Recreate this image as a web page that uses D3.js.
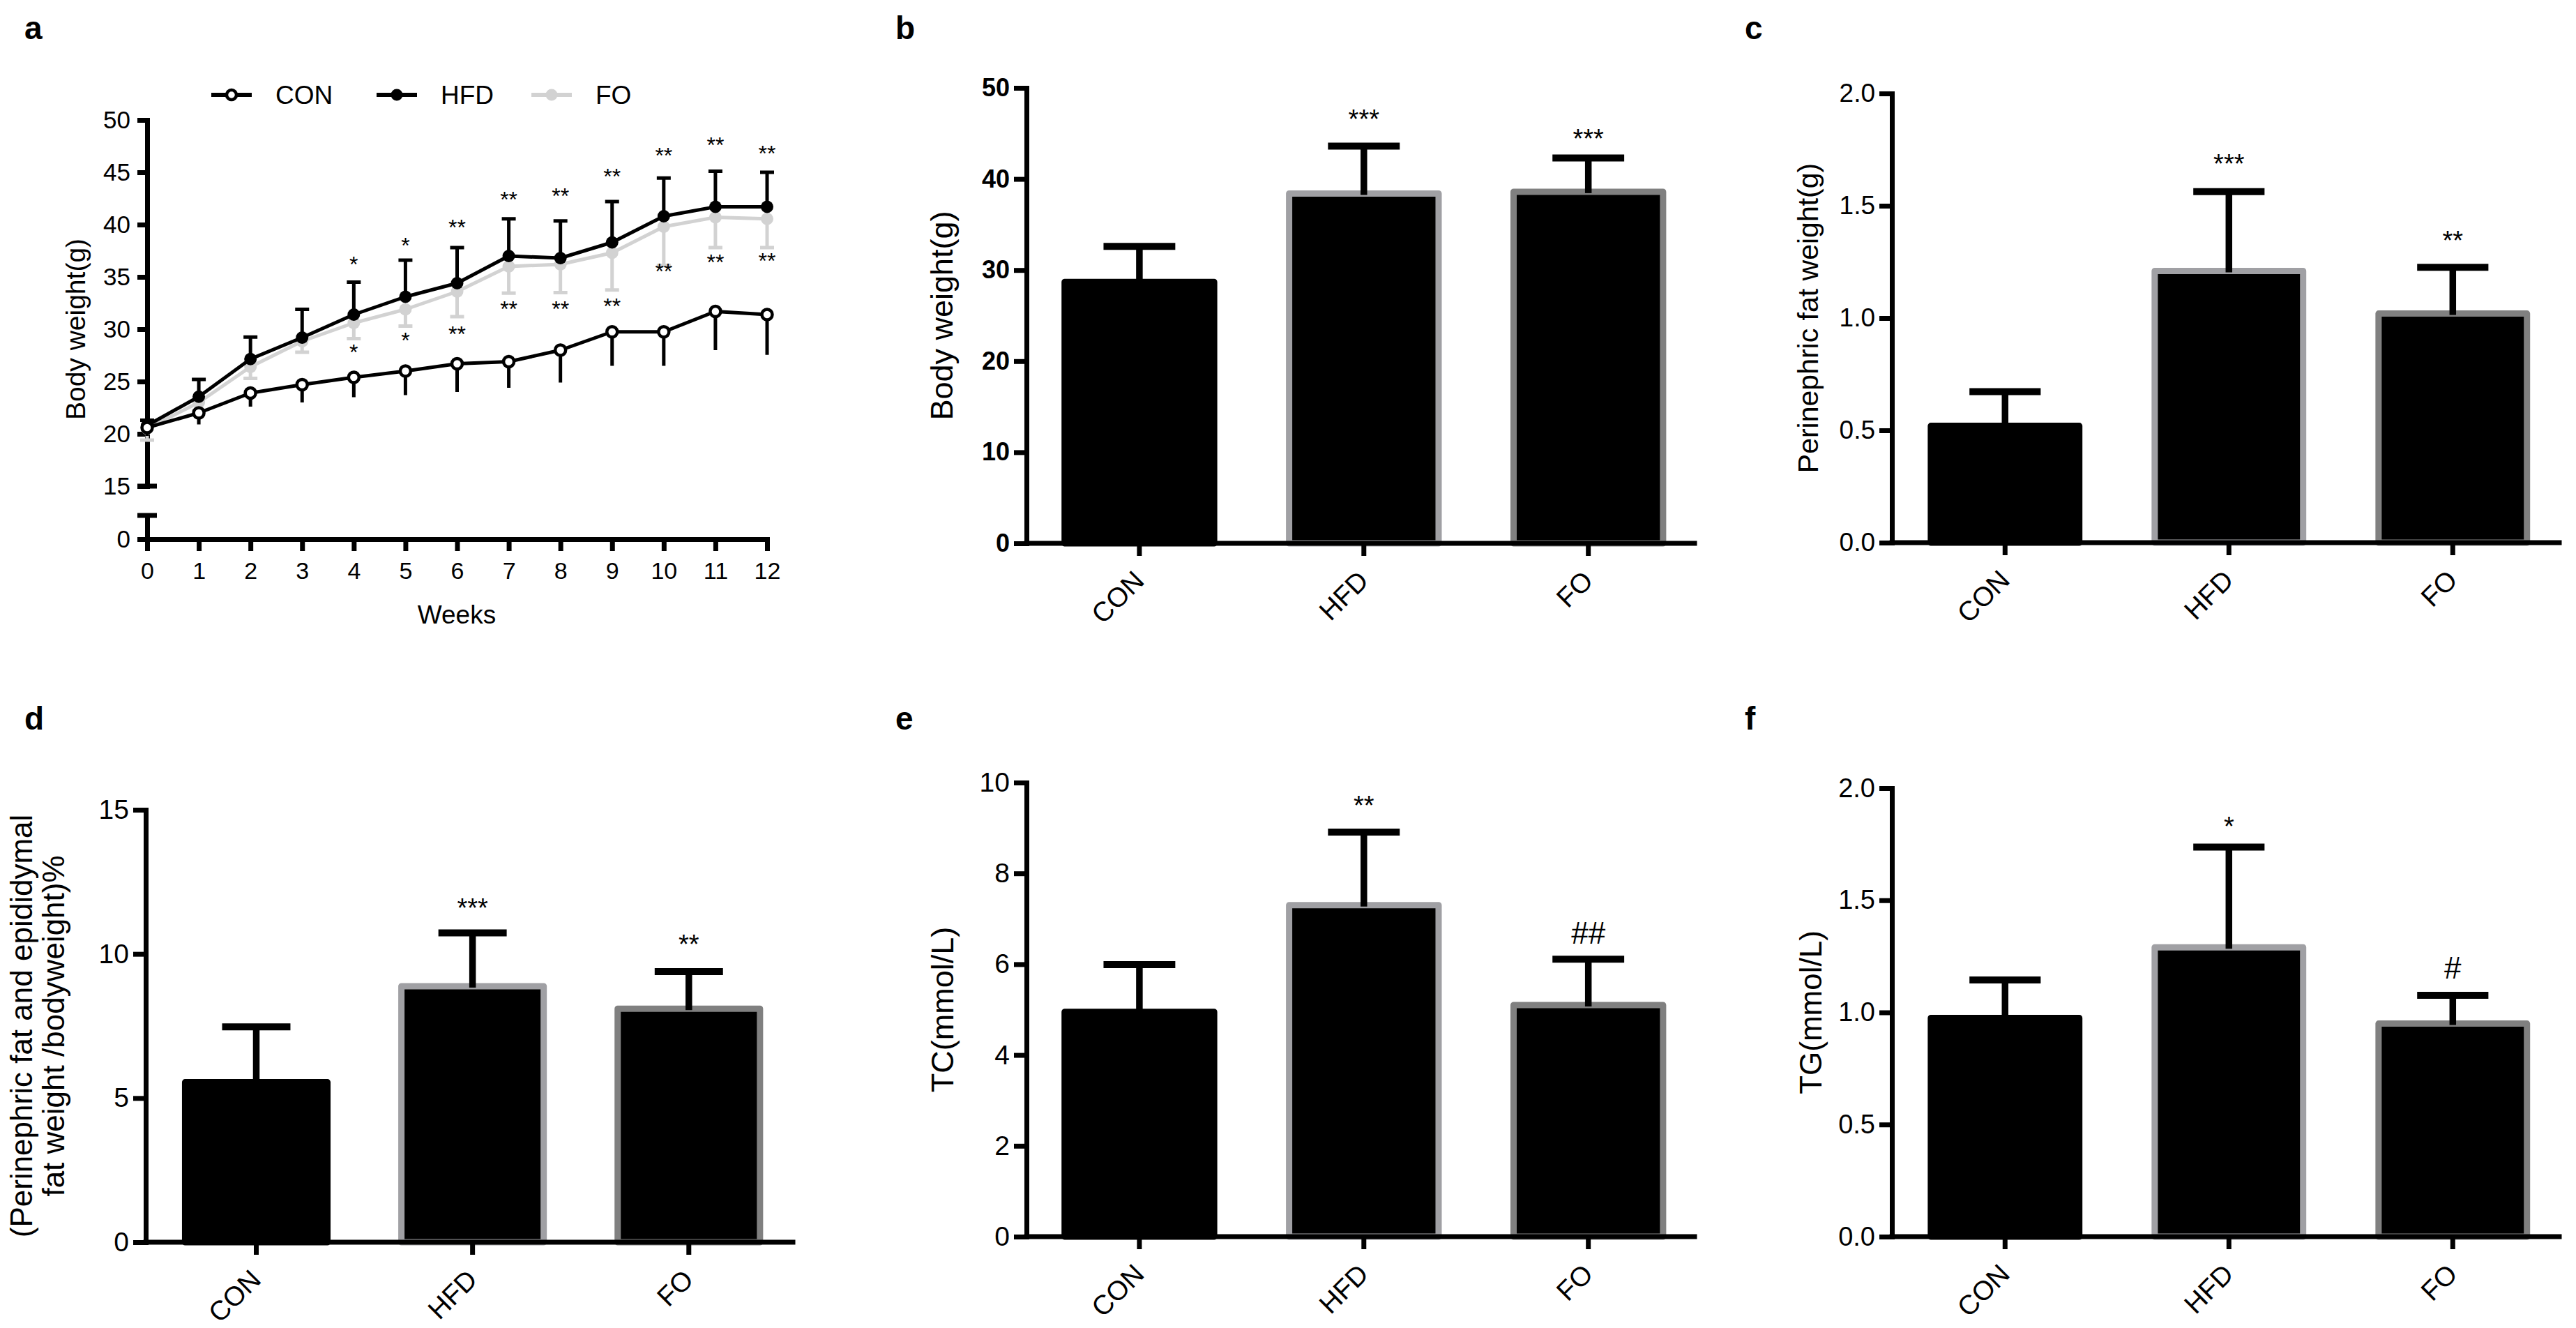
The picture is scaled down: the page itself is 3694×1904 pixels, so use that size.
<!DOCTYPE html>
<html>
<head>
  <meta charset="utf-8">
  <script src="https://cdn.jsdelivr.net/npm/d3@7"></script>
  <style>
    body { margin: 0; background: #fff; }
    text { font-family: "Liberation Sans", Arial, sans-serif; fill: #000; }
  </style>
</head>
<body>
<div id="chart"></div>
<script>
  // ---- data ----
  var groups = ["CON", "HFD", "FO"];

  // panel a: body weight over time
  var weeks = [0, 1, 2, 3, 4, 5, 6, 7, 8, 9, 10, 11, 12];
  var conMean = [20.6, 22.0, 23.9, 24.7, 25.4, 26.0, 26.7, 26.9, 28.0, 29.75, 29.75, 31.7, 31.4];
  var conSD   = [0.8, 1.1, 1.3, 1.7, 1.9, 2.3, 2.7, 2.5, 3.1, 3.25, 3.25, 3.7, 3.85];
  var hfdMean = [20.8, 23.55, 27.15, 29.2, 31.4, 33.1, 34.4, 37.0, 36.8, 38.3, 40.8, 41.7, 41.7];
  var hfdSD   = [0.5, 1.65, 2.1, 2.7, 3.1, 3.5, 3.4, 3.55, 3.55, 3.9, 3.65, 3.4, 3.3];
  var foMean  = [20.5, 23.0, 26.4, 28.85, 30.6, 31.9, 33.6, 36.0, 36.2, 37.3, 39.8, 40.7, 40.55];
  var foSD    = [1.1, 0.8, 1.1, 1.05, 1.5, 1.6, 2.4, 2.55, 2.7, 3.55, 3.7, 2.9, 2.75];
  // significance marks: week, label, y (in g)
  var sigAboveWeek = [4, 5, 6, 7, 8, 9, 10, 11, 12];
  var sigAboveText = ["*", "*", "**", "**", "**", "**", "**", "**", "**"];
  var sigAboveY    = [36.7, 38.45, 40.2, 42.85, 43.2, 45.1, 47.1, 48.1, 47.3];
  var sigBelowWeek = [4, 5, 6, 7, 8, 9, 10, 11, 12];
  var sigBelowText = ["*", "*", "**", "**", "**", "**", "**", "**", "**"];
  var sigBelowY    = [28.3, 29.4, 30.0, 32.4, 32.4, 32.65, 36.0, 36.9, 37.0];
  var weekTicksUpper = [15, 20, 25, 30, 35, 40, 45, 50];

  // panel b: body weight (g)
  var bwMean = [28.7, 38.4, 38.6];
  var bwSD   = [3.9, 5.2, 3.7];
  var bwSig  = ["", "***", "***"];
  var bwSigY = [0, 47.2, 45.1];
  // panel c: perinephric fat weight (g)
  var pfMean = [0.52, 1.21, 1.02];
  var pfSD   = [0.152, 0.353, 0.206];
  var pfSig  = ["", "***", "**"];
  var pfSigY = [0, 1.712, 1.372];
  // panel d: fat ratio (%)
  var frMean = [5.55, 8.88, 8.1];
  var frSD   = [1.92, 1.85, 1.29];
  var frSig  = ["", "***", "**"];
  var frSigY = [0, 11.8, 10.53];
  // panel e: TC (mmol/L)
  var tcMean = [4.95, 7.3, 5.1];
  var tcSD   = [1.04, 1.61, 1.01];
  var tcSig  = ["", "**", "##"];
  var tcSigY = [0, 9.63, 6.7];
  // panel f: TG (mmol/L)
  var tgMean = [0.975, 1.29, 0.95];
  var tgSD   = [0.17, 0.447, 0.126];
  var tgSig  = ["", "*", "#"];
  var tgSigY = [0, 1.857, 1.2];

  // ---- layout ----
  var W = 3694, H = 1904;
  var barEdge = { CON: "#000000", HFD: "#a0a0a4", FO: "#808080" };
  var lineCol = { CON: "#000000", HFD: "#000000", FO: "#d2d2d2" };

  var svg = d3.select("#chart").append("svg")
    .attr("width", W).attr("height", H)
    .style("background", "#fff");

  function styleAxis(g, fs, bold) {
    g.select(".domain").attr("stroke", "#000").attr("stroke-width", 7).attr("stroke-linecap", "square");
    g.selectAll(".tick line").attr("stroke", "#000").attr("stroke-width", 7);
    g.selectAll(".tick text").style("font-size", fs + "px")
      .style("font-weight", bold ? "bold" : "normal")
      .style("font-family", '"Liberation Sans", Arial, sans-serif').attr("fill", "#000");
    g.attr("font-family", null);
  }

  function panelLabel(t, x, y) {
    svg.append("text").attr("x", x).attr("y", y)
      .style("font-size", "46px").style("font-weight", "bold").text(t);
  }

  function sigText(g, x, y, t, fs) {
    // asterisks sit high in the em box, hashes sit on the baseline
    var off = t.indexOf("#") >= 0 ? 0.36 : 0.57;
    g.append("text").attr("x", x).attr("y", y + off * fs)
      .attr("text-anchor", "middle").style("font-size", fs + "px").text(t);
  }

  // ---- panel a ----
  (function () {
    var g = svg.append("g");
    var x = d3.scaleLinear().domain([0, 12]).range([211, 1100]);
    var yUp = d3.scaleLinear().domain([15, 50]).range([697, 172]);
    var yLow = d3.scaleLinear().domain([0, 2.27]).range([773, 739]);

    // dir: +1 error bar drawn upward (higher value), -1 downward
    var series = [
      { name: "FO", mean: foMean, sd: foSD, dir: -1, cap: true },
      { name: "HFD", mean: hfdMean, sd: hfdSD, dir: 1, cap: true },
      { name: "CON", mean: conMean, sd: conSD, dir: -1, cap: false }
    ];

    // axes
    var ax = g.append("g").attr("transform", "translate(0,773)")
      .call(d3.axisBottom(x).tickValues(weeks).tickSize(17).tickPadding(16).tickSizeOuter(0));
    styleAxis(ax, 34, false);
    var ay = g.append("g").attr("transform", "translate(211,0)")
      .call(d3.axisLeft(yUp).tickValues(weekTicksUpper).tickFormat(d3.format("d"))
        .tickSize(14).tickPadding(10).tickSizeOuter(0));
    styleAxis(ay, 35, false);
    var ay0 = g.append("g").attr("transform", "translate(211,0)")
      .call(d3.axisLeft(yLow).tickValues([0]).tickFormat(d3.format("d"))
        .tickSize(14).tickPadding(10).tickSizeOuter(0));
    styleAxis(ay0, 35, false);
    ay0.select(".domain").attr("stroke-linecap", "butt");
    // segment end marks of the broken axis
    [yUp(15), yLow(2.27)].forEach(function (yy) {
      g.append("line").attr("x1", 197).attr("x2", 225).attr("y1", yy).attr("y2", yy)
        .attr("stroke", "#000").attr("stroke-width", 7);
    });

    g.append("text").attr("x", 655).attr("y", 894).attr("text-anchor", "middle")
      .style("font-size", "37px").text("Weeks");
    g.append("text").attr("transform", "translate(122,472) rotate(-90)")
      .attr("text-anchor", "middle").style("font-size", "39px").text("Body weight(g)");

    var line = d3.line().x(function (d, i) { return x(weeks[i]); }).y(function (d) { return yUp(d); });

    series.forEach(function (s) {
      var col = lineCol[s.name];
      var sg = g.append("g");
      // error bars
      s.mean.forEach(function (m, i) {
        var yEnd = yUp(m + s.dir * s.sd[i]);
        sg.append("line").attr("x1", x(weeks[i])).attr("x2", x(weeks[i]))
          .attr("y1", yUp(m)).attr("y2", yEnd).attr("stroke", col).attr("stroke-width", 5);
        if (s.cap) {
          sg.append("line").attr("x1", x(weeks[i]) - 10).attr("x2", x(weeks[i]) + 10)
            .attr("y1", yEnd).attr("y2", yEnd).attr("stroke", col).attr("stroke-width", 5);
        }
      });
      sg.append("path").datum(s.mean).attr("d", line)
        .attr("fill", "none").attr("stroke", col).attr("stroke-width", 5).attr("stroke-linejoin", "round");
      sg.selectAll("circle").data(s.mean).join("circle")
        .attr("cx", function (d, i) { return x(weeks[i]); })
        .attr("cy", function (d) { return yUp(d); })
        .attr("r", s.name === "CON" ? 7.5 : 9)
        .attr("fill", s.name === "CON" ? "#fff" : col)
        .attr("stroke", col).attr("stroke-width", s.name === "CON" ? 4.5 : 0);
    });

    sigAboveWeek.forEach(function (w, i) { sigText(g, x(w), yUp(sigAboveY[i]), sigAboveText[i], 32); });
    sigBelowWeek.forEach(function (w, i) { sigText(g, x(w), yUp(sigBelowY[i]), sigBelowText[i], 32); });

    // legend
    var legX = { CON: 332, HFD: 569, FO: 791 };
    ["CON", "HFD", "FO"].forEach(function (n) {
      var cx = legX[n], col = lineCol[n];
      g.append("line").attr("x1", cx - 29).attr("x2", cx + 29).attr("y1", 136).attr("y2", 136)
        .attr("stroke", col).attr("stroke-width", 6);
      g.append("circle").attr("cx", cx).attr("cy", 136).attr("r", n === "CON" ? 7 : 8.5)
        .attr("fill", n === "CON" ? "#fff" : col).attr("stroke", col)
        .attr("stroke-width", n === "CON" ? 4.5 : 0);
      g.append("text").attr("x", cx + 63).attr("y", 149).style("font-size", "37px").text(n);
    });
  })();

  // ---- bar panels ----
  var barPanels = [
    { mean: bwMean, sd: bwSD, sig: bwSig, sigY: bwSigY, max: 50, ticks: [0, 10, 20, 30, 40, 50], fmt: d3.format("d"),
      x0: 1472, x1: 2430, y0: 779, yTop: 126, bold: true, tickFs: 36,
      pi: 0.334, po: 0.17, title: ["Body weight(g)"], tx: 1366, tFs: 45 },
    { mean: pfMean, sd: pfSD, sig: pfSig, sigY: pfSigY, max: 2, ticks: [0, 0.5, 1, 1.5, 2], fmt: d3.format(".1f"),
      x0: 2713, x1: 3670, y0: 778, yTop: 134, bold: false, tickFs: 37,
      pi: 0.337, po: 0.174, title: ["Perinephric fat weight(g)"], tx: 2607, tFs: 41 },
    { mean: frMean, sd: frSD, sig: frSig, sigY: frSigY, max: 15, ticks: [0, 5, 10, 15], fmt: d3.format("d"),
      x0: 209, x1: 1137, y0: 1781, yTop: 1161, bold: false, tickFs: 39,
      pi: 0.342, po: 0.182, title: ["(Perinephric fat and epididymal", "fat weight /bodyweight)%"], tx: 69, tFs: 44 },
    { mean: tcMean, sd: tcSD, sig: tcSig, sigY: tcSigY, max: 10, ticks: [0, 2, 4, 6, 8, 10], fmt: d3.format("d"),
      x0: 1472, x1: 2430, y0: 1773, yTop: 1122, bold: false, tickFs: 39,
      pi: 0.334, po: 0.17, title: ["TC(mmol/L)"], tx: 1367, tFs: 45 },
    { mean: tgMean, sd: tgSD, sig: tgSig, sigY: tgSigY, max: 2, ticks: [0, 0.5, 1, 1.5, 2], fmt: d3.format(".1f"),
      x0: 2713, x1: 3670, y0: 1773, yTop: 1130, bold: false, tickFs: 38,
      pi: 0.337, po: 0.174, title: ["TG(mmol/L)"], tx: 2612, tFs: 44 }
  ];

  barPanels.forEach(function (p) {
    var g = svg.append("g");
    var xb = d3.scaleBand().domain(groups).range([p.x0, p.x0 + (p.x1 - p.x0) * 1.01])
      .paddingInner(p.pi).paddingOuter(p.po);
    var y = d3.scaleLinear().domain([0, p.max]).range([p.y0, p.yTop]);
    var bw = xb.bandwidth();

    // bars
    g.selectAll("rect").data(groups).join("rect")
      .attr("x", function (d) { return xb(d); })
      .attr("width", bw)
      .attr("y", function (d, i) { return y(p.mean[i]); })
      .attr("height", function (d, i) { return y(0) - y(p.mean[i]); })
      .attr("fill", "#000")
      .attr("stroke", function (d) { return barEdge[d]; })
      .attr("stroke-width", 9).attr("stroke-linejoin", "round");

    // error bars
    groups.forEach(function (d, i) {
      var cx = xb(d) + bw / 2, top = y(p.mean[i] + p.sd[i]);
      g.append("line").attr("x1", cx).attr("x2", cx).attr("y1", y(p.mean[i]) + 2).attr("y2", top)
        .attr("stroke", "#000").attr("stroke-width", 9.5);
      g.append("line").attr("x1", cx - bw * 0.24).attr("x2", cx + bw * 0.24).attr("y1", top).attr("y2", top)
        .attr("stroke", "#000").attr("stroke-width", 10);
      if (p.sig[i]) sigText(g, cx, y(p.sigY[i]), p.sig[i], p.sig[i].indexOf("#") >= 0 ? 44 : 38);
    });

    // axes
    var ay = g.append("g").attr("transform", "translate(" + p.x0 + ",0)")
      .call(d3.axisLeft(y).tickValues(p.ticks).tickFormat(p.fmt).tickSize(18).tickPadding(6).tickSizeOuter(0));
    styleAxis(ay, p.tickFs, p.bold);
    var ax = g.append("g").attr("transform", "translate(0," + p.y0 + ")")
      .call(d3.axisBottom(xb).tickSize(18).tickSizeOuter(0));
    styleAxis(ax, 39, false);
    ax.select(".domain").attr("d", "M" + p.x0 + ",0H" + p.x1);
    ax.selectAll(".tick text")
      .attr("x", null).attr("y", null).attr("dy", null)
      .attr("text-anchor", "end")
      .attr("transform", "translate(9,56) rotate(-45)");

    // y title
    var cy = (p.y0 + p.yTop) / 2;
    var lh = p.tFs * 1.05;
    p.title.forEach(function (t, k) {
      var off = (k - (p.title.length - 1) / 2) * lh;
      g.append("text").attr("transform", "translate(" + (p.tx + off) + "," + cy + ") rotate(-90)")
        .attr("text-anchor", "middle").style("font-size", p.tFs + "px").text(t);
    });
  });

  panelLabel("a", 35, 56);
  panelLabel("b", 1284, 56);
  panelLabel("c", 2502, 56);
  panelLabel("d", 35, 1046);
  panelLabel("e", 1284, 1046);
  panelLabel("f", 2502, 1046);
</script>
</body>
</html>
